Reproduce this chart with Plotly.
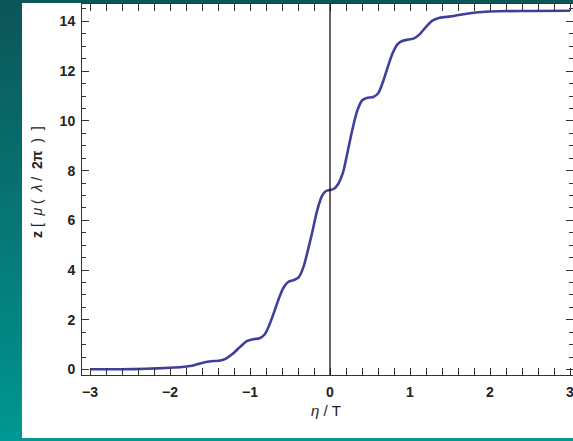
import plotly.graph_objects as go

# Staircase profile z(eta/T)
eta = [-3.0, -2.6, -2.3, -2.0, -1.85, -1.75, -1.65, -1.55, -1.45, -1.37,
       -1.30, -1.22, -1.12, -1.04, -0.96, -0.88, -0.82, -0.76, -0.70, -0.64,
       -0.58, -0.52, -0.45, -0.39, -0.33, -0.28, -0.22, -0.16, -0.10, -0.05,
       0.00, 0.05, 0.10, 0.16, 0.22, 0.28, 0.34, 0.40, 0.46, 0.54,
       0.60, 0.66, 0.72, 0.78, 0.84, 0.91, 0.98, 1.05, 1.12, 1.20,
       1.28, 1.36, 1.45, 1.55, 1.65, 1.75, 1.90, 2.10, 2.50, 3.00]
z = [0.01, 0.01, 0.03, 0.07, 0.10, 0.14, 0.22, 0.30, 0.34, 0.36,
     0.44, 0.62, 0.92, 1.14, 1.22, 1.26, 1.40, 1.78, 2.30, 2.85,
     3.30, 3.53, 3.60, 3.72, 4.14, 4.75, 5.55, 6.40, 6.98, 7.18,
     7.22, 7.27, 7.45, 7.90, 8.75, 9.65, 10.40, 10.82, 10.92, 10.96,
     11.10, 11.55, 12.15, 12.70, 13.07, 13.22, 13.27, 13.32, 13.48, 13.78,
     14.03, 14.14, 14.18, 14.22, 14.28, 14.33, 14.38, 14.41, 14.42, 14.43]

x_ticks = [-3, -2, -1, 0, 1, 2, 3]
x_tick_text = ["\u22123", "\u22122", "\u22121", "0", "1", "2", "3"]
y_ticks = [0, 2, 4, 6, 8, 10, 12, 14]

W, H = 573, 441
L, R, T, B = 82, 0, 4, 66
pw, ph = W - L - R, H - T - B


def px_x(p):
    return (p - L) / pw


def px_y(p):
    return (H - B - p) / ph


fig = go.Figure()
fig.add_trace(go.Scatter(
    x=eta, y=z, mode="lines",
    line=dict(color="#40409c", width=2.6, shape="spline", smoothing=0.8),
    showlegend=False, hoverinfo="skip",
))

# page background: teal strip with vertical gradient, white panel
shapes = []
top_c = (12, 86, 88)
bot_c = (0, 150, 145)
n = 45
for i in range(n):
    t = i / (n - 1)
    c = tuple(round(top_c[k] + (bot_c[k] - top_c[k]) * t) for k in range(3))
    y0 = i * H / n
    y1 = (i + 1) * H / n + 1
    shapes.append(dict(type="rect", xref="paper", yref="paper", layer="below",
                       x0=px_x(0), x1=px_x(W), y0=px_y(y1), y1=px_y(y0),
                       line=dict(width=0), fillcolor="rgb(%d,%d,%d)" % c))
shapes.append(dict(type="rect", xref="paper", yref="paper", layer="below",
                   x0=px_x(22), x1=px_x(W + 2), y0=px_y(438), y1=px_y(3),
                   line=dict(width=0), fillcolor="white"))
# vertical axis line at eta = 0
shapes.append(dict(type="line", xref="x", yref="paper", x0=0, x1=0, y0=0, y1=1,
                   line=dict(color="#111", width=1.3)))

tick_font = dict(family="Liberation Sans, Arial", size=14, color="#222",
                 weight="bold")
axis_common = dict(
    ticks="inside", ticklen=7, tickwidth=1, tickcolor="#333",
    showline=True, linecolor="#333", linewidth=1, automargin=False,
    showgrid=False, zeroline=False, tickfont=tick_font,
    ticklabeloverflow="allow",
)
minor_common = dict(ticks="inside", ticklen=4, tickcolor="#333", tick0=0)

fig.update_layout(
    template="none",
    width=W, height=H,
    margin=dict(l=L, r=R, t=T, b=B, pad=0, autoexpand=False),
    paper_bgcolor="rgb(6,118,117)", plot_bgcolor="white",
    shapes=shapes,
    xaxis=dict(range=[-3.1, 3.0375], tickvals=x_ticks, ticktext=x_tick_text,
               mirror="allticks", ticklabelstandoff=4,
               minor=dict(dtick=0.2, **minor_common),
               **axis_common),
    yaxis=dict(range=[-0.22, 14.7], tickvals=y_ticks, mirror=False,
               ticklabelstandoff=3,
               minor=dict(dtick=0.5, **minor_common),
               **axis_common),
    yaxis2=dict(range=[-0.22, 14.7], overlaying="y", side="right",
                tickvals=y_ticks, showticklabels=False, showline=False,
                ticks="inside", ticklen=7, tickcolor="#333", showgrid=False,
                zeroline=False, automargin=False,
                minor=dict(dtick=0.5, **minor_common)),
    annotations=[
        dict(xref="paper", yref="paper", x=px_x(326), y=px_y(421),
             text="<i>\u03b7</i> / T", showarrow=False,
             font=dict(family="Liberation Sans, Arial", size=15, color="#222")),
        dict(xref="paper", yref="paper", x=px_x(27), y=px_y(182),
             textangle=-90,
             text="<b>z</b> [  <i>\u03bc</i> (  <i>\u03bb</i> /  <b>2\u03c0</b>  )  ]",
             showarrow=False,
             font=dict(family="Liberation Sans, Arial", size=14, color="#222")),
    ],
)
# empty trace so the right-side tick axis is drawn
fig.add_trace(go.Scatter(x=[None], y=[None], yaxis="y2", showlegend=False,
                         hoverinfo="skip"))

fig.write_html("out.html")
